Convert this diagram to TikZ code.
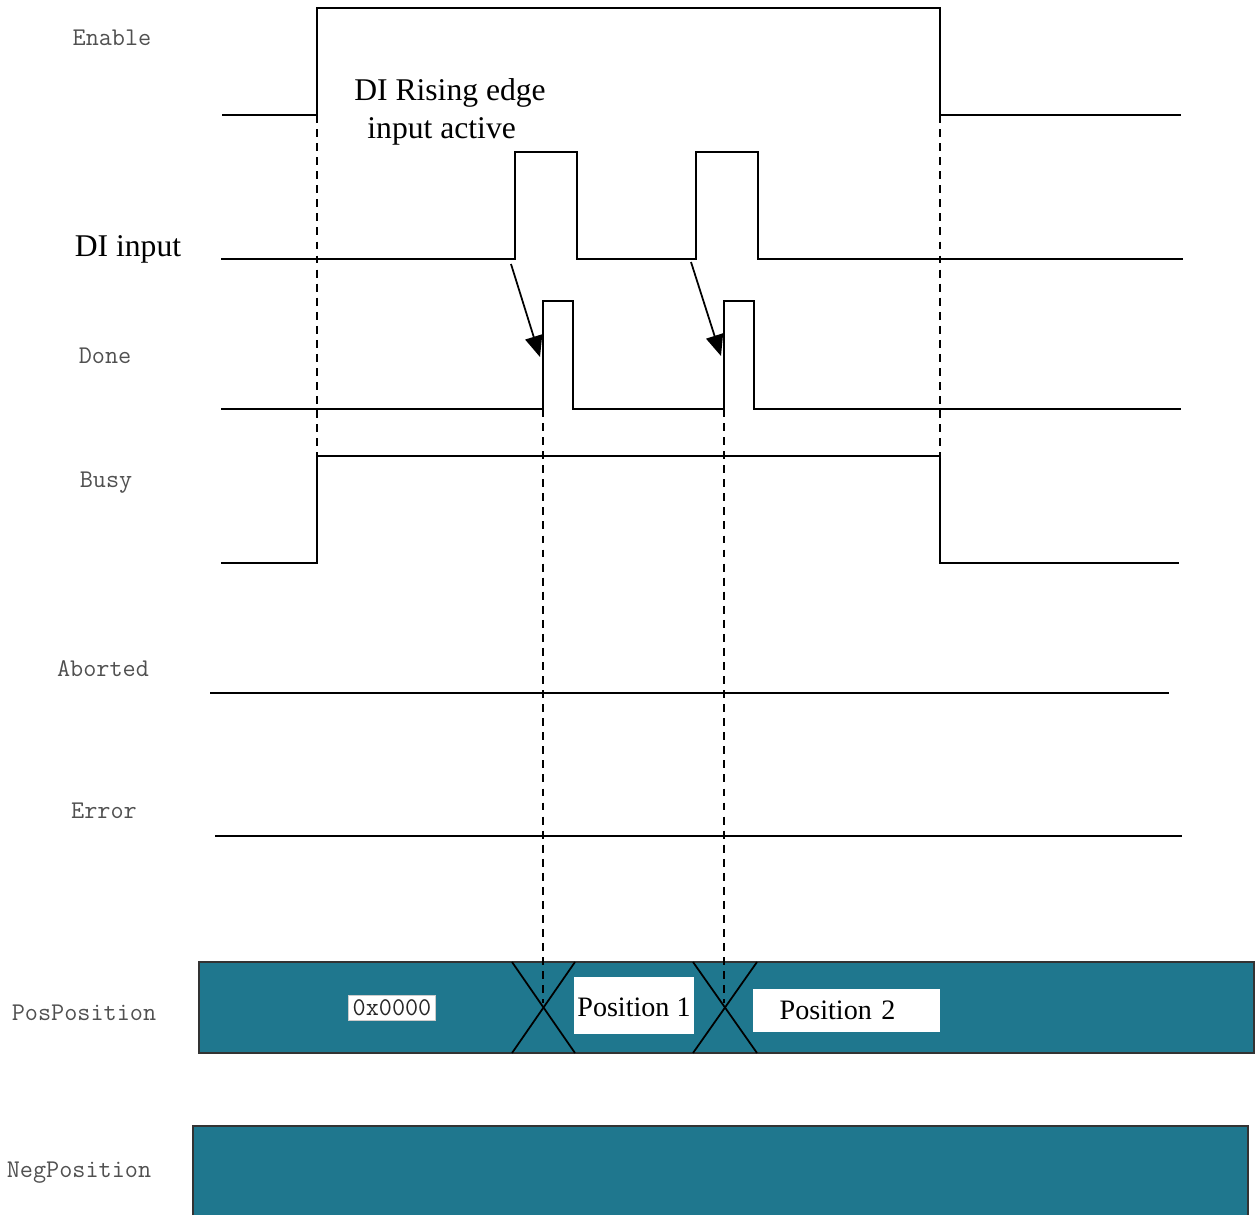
\documentclass[tikz,border=0pt]{standalone}
\usepackage{fontspec}
\setmainfont{Liberation Serif}
\usetikzlibrary{arrows.meta}
\definecolor{busteal}{RGB}{31,119,142}
\definecolor{labelgray}{RGB}{80,80,80}

\begin{document}
\begin{tikzpicture}[x=0.02cm,y=-0.02cm,
    wave/.style={line width=1pt},
    guide/.style={line width=0.9pt,dash pattern=on 4.5pt off 3.5pt},
    siglabel/.style={font=\ttfamily\fontsize{14.5}{16}\selectfont,text=labelgray},
    notelabel/.style={font=\fontsize{18}{21.5}\selectfont},
    bus/.style={fill=busteal,draw=black!80,line width=0.9pt},
    valbox/.style={fill=white,inner sep=0pt,font=\fontsize{16}{18}\selectfont}]
    \useasboundingbox (0,0) rectangle (1255,1215);

    % waveforms
    \draw[wave] (222,115) -- (317,115) -- (317,8) -- (940,8) -- (940,115) -- (1181,115);
    \draw[wave] (221,259) -- (515,259) -- (515,152) -- (577,152) -- (577,259) -- (696,259)
        -- (696,152) -- (758,152) -- (758,259) -- (1183,259);
    \draw[wave] (221,409) -- (543,409) -- (543,301) -- (573,301) -- (573,409) -- (724,409)
        -- (724,301) -- (754,301) -- (754,409) -- (1181,409);
    \draw[wave] (221,563) -- (317,563) -- (317,456) -- (940,456) -- (940,563) -- (1179,563);
    \draw[wave] (210,693) -- (1169,693);
    \draw[wave] (215,836) -- (1182,836);

    % buses
    \draw[bus] (199,962) rectangle (1254,1053);
    \fill[busteal] (193,1126) rectangle (1248,1215);
    \draw[line width=0.9pt,black!80] (193,1215) |- (1248,1126) -- (1248,1215);
    \draw[wave] (512,962) -- (575,1053);
    \draw[wave] (575,962) -- (512,1053);
    \draw[wave] (693,962) -- (757,1053);
    \draw[wave] (757,962) -- (693,1053);

    % guides
    \draw[guide] (317,115) -- (317,456);
    \draw[guide] (940,115) -- (940,456);
    \draw[guide] (543,409) -- (543,1003);
    \draw[guide] (724,409) -- (724,1003);

    % values
    \node[valbox,draw=gray!40,line width=0.5pt,font=\ttfamily\fontsize{14.5}{16}\selectfont,
        text=black!85,minimum width=50pt,minimum height=14.7pt] (v0) at (392,1008) {0x0000};
    \node[valbox,minimum width=68pt,minimum height=32pt,text height=14pt,text depth=1.4pt]
        (v1) at (634,1005.5) {Position 1};
    \node[valbox,minimum width=106pt,minimum height=24.4pt,text width=96pt,align=left]
        (v2) at (846.5,1010.5) {\hspace{10pt}Position 2};

    % edge arrows
    \coordinate (di1) at (511,264);
    \coordinate (dn1) at (540,357);
    \coordinate (di2) at (691,262);
    \coordinate (dn2) at (721,356);
    \draw[line width=1pt,-{Triangle[length=12pt,width=10pt]}] (di1) -- (dn1);
    \draw[line width=1pt,-{Triangle[length=12pt,width=10pt]}] (di2) -- (dn2);

    % labels
    \node[siglabel] (enable) at (112,38) {Enable};
    \node[notelabel] (diin) at (128,249) {DI input};
    \node[siglabel] (done) at (105,356) {Done};
    \node[siglabel] (busy) at (106,483) {Busy};
    \node[siglabel] (abort) at (103,669) {Aborted};
    \node[siglabel] (err) at (104,811) {Error};
    \node[siglabel] (pos) at (84,1013) {PosPosition};
    \node[siglabel] (neg) at (79,1173) {NegPosition};
    \node[notelabel,align=left] (note) at (450,112) {DI Rising edge\\\ \,input active};
\end{tikzpicture}
\end{document}
